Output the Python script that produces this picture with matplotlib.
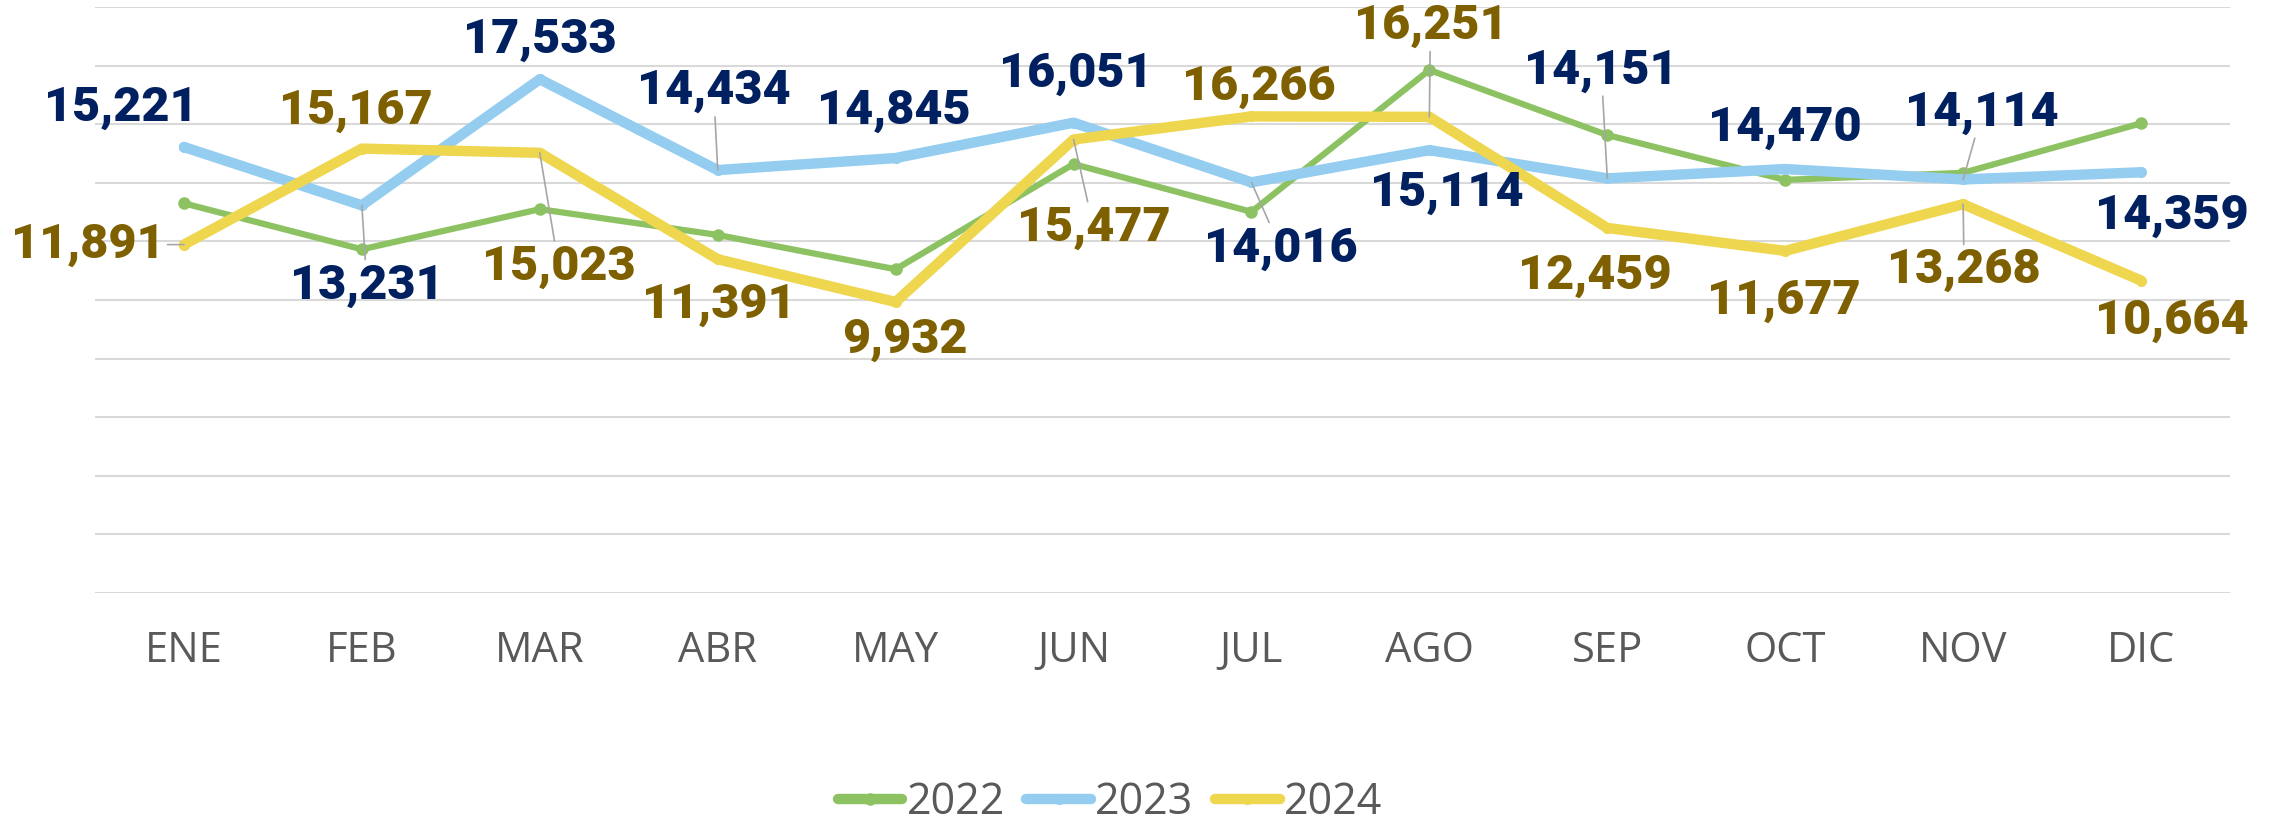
import matplotlib.pyplot as plt

months = ["ENE", "FEB", "MAR", "ABR", "MAY", "JUN", "JUL", "AGO", "SEP", "OCT", "NOV", "DIC"]
v2022 = [13300, 11730, 13100, 12220, 11050, 14640, 13010, 17850, 15630, 14100, 14340, 16030]
v2023 = [15221, 13231, 17533, 14434, 14845, 16051, 14016, 15114, 14151, 14470, 14114, 14359]
v2024 = [11891, 15167, 15023, 11391, 9932, 15477, 16266, 16251, 12459, 11677, 13268, 10664]

# label offsets in pixels (dx, dy up) and whether a leader line is drawn
off2023 = [(-63, 39), (5, -80), (0, 40), (-4, 79), (-2, 47), (2, 49),
           (29, -66), (17, -43), (-6, 108), (0, 41), (19, 67), (31, -43)]
lead2023 = [0, 1, 0, 1, 0, 0, 1, 0, 1, 0, 1, 0]
off2024 = [(-96, 0), (-6, 38), (19, -114), (1, -46), (9, -38), (20, -88),
           (7, 30), (1, 91), (-12, -48), (-1, -50), (1, -66), (31, -40)]
lead2024 = [1, 0, 1, 0, 0, 1, 0, 1, 0, 0, 1, 0]

GREEN = "#8DC263"
BLUE = "#94CDEF"
YELLOW = "#EFD64F"
NAVY = "#002060"
BROWN = "#7F6000"

fig = plt.figure(figsize=(22.9, 8.23), dpi=100)
ax = fig.add_axes([95 / 2290, 1 - 593 / 823, 2135 / 2290, 586 / 823])

x = list(range(len(months)))
ax.plot(x, v2022, color=GREEN, lw=4.5, marker="o", ms=8, label="2022", solid_capstyle="round")
ax.plot(x, v2023, color=BLUE, lw=7.5, marker="o", ms=7, label="2023", solid_capstyle="round")
ax.plot(x, v2024, color=YELLOW, lw=7.5, marker="o", ms=7, label="2024", solid_capstyle="round")

ax.set_xlim(-0.5, 11.5)
ax.set_ylim(0, 20000)
ax.set_yticks(range(0, 20001, 2000))
ax.set_yticklabels([])
ax.grid(axis="y", color="#D9D9D9", lw=1.5)
ax.set_axisbelow(True)
for s in ax.spines.values():
    s.set_visible(False)
ax.tick_params(length=0)
ax.set_xticks(x)
ax.set_xticklabels(months, fontsize=30, color="#595959", family="Open Sans")
ax.tick_params(axis="x", pad=27)


def put_labels(vals, offs, leads, color):
    for i, v in enumerate(vals):
        ap = None
        if leads[i]:
            ap = dict(arrowstyle="-", color="#A6A6A6", lw=1.2, shrinkA=0, shrinkB=0)
        ax.annotate(f"{v:,}", (i, v), xytext=offs[i], textcoords="offset pixels",
                    ha="center", va="center", fontsize=35, fontweight="black",
                    family="Roboto", color=color, arrowprops=ap, zorder=5)


put_labels(v2023, off2023, lead2023, NAVY)
put_labels(v2024, off2024, lead2024, BROWN)

leg = fig.legend(loc="center", bbox_to_anchor=(1110 / 2290, 0.024), ncol=3, frameon=False,
                 prop={"family": "Open Sans", "size": 31}, labelcolor="#595959",
                 handlelength=1.5, handletextpad=0.1, columnspacing=0.5)
for h in leg.legend_handles:
    h.set_linewidth(7.5)

fig.savefig("out.png", dpi=100)
